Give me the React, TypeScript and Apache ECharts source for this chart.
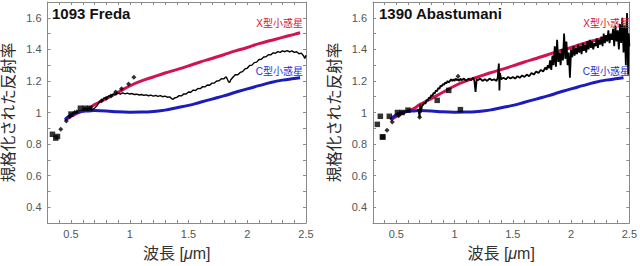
import React, { useEffect, useRef } from "react";
import * as echarts from "echarts";

// Reference spectra (shared)
const xTypeWl = [0.45, 0.5, 0.55, 0.6, 0.65, 0.7, 0.8, 0.9, 1.0, 1.1, 1.2, 1.3, 1.4, 1.5, 1.6, 1.7, 1.8, 1.9, 2.0, 2.1, 2.2, 2.3, 2.4, 2.45];
const xTypeRef = [0.95, 0.975, 0.995, 1.01, 1.025, 1.05, 1.088, 1.128, 1.168, 1.2, 1.225, 1.25, 1.272, 1.295, 1.32, 1.342, 1.366, 1.39, 1.412, 1.436, 1.456, 1.476, 1.495, 1.505];
const cTypeWl = [0.45, 0.5, 0.55, 0.6, 0.65, 0.7, 0.8, 0.9, 1.0, 1.1, 1.2, 1.3, 1.4, 1.5, 1.6, 1.7, 1.8, 1.9, 2.0, 2.1, 2.2, 2.3, 2.4, 2.45];
const cTypeRef = [0.955, 0.985, 1.0, 1.008, 1.01, 1.012, 1.01, 1.004, 1.002, 1.003, 1.007, 1.015, 1.03, 1.045, 1.065, 1.085, 1.105, 1.128, 1.15, 1.17, 1.19, 1.205, 1.215, 1.22];

// 1093 Freda
const fredaWl = [0.6, 0.62, 0.64, 0.66, 0.68, 0.7, 0.72, 0.74, 0.76, 0.78, 0.8, 0.82, 0.84, 0.86, 0.88, 0.9, 0.92, 0.94, 0.96, 0.98, 1.0, 1.02, 1.04, 1.06, 1.08, 1.1, 1.12, 1.14, 1.16, 1.18, 1.2, 1.22, 1.24, 1.26, 1.28, 1.3, 1.32, 1.34, 1.36, 1.37, 1.38, 1.4, 1.42, 1.44, 1.46, 1.48, 1.5, 1.52, 1.54, 1.56, 1.58, 1.6, 1.62, 1.64, 1.66, 1.68, 1.7, 1.72, 1.74, 1.76, 1.78, 1.8, 1.82, 1.83, 1.84, 1.85, 1.86, 1.88, 1.9, 1.92, 1.94, 1.96, 1.98, 2.0, 2.02, 2.04, 2.06, 2.08, 2.1, 2.12, 2.14, 2.16, 2.18, 2.2, 2.22, 2.24, 2.26, 2.28, 2.3, 2.32, 2.34, 2.36, 2.38, 2.4, 2.42, 2.44, 2.46, 2.48, 2.49, 2.5];
const fredaRef = [1.025, 1.029, 1.022, 1.028, 1.018, 1.027, 1.042, 1.066, 1.072, 1.092, 1.091, 1.105, 1.103, 1.116, 1.112, 1.123, 1.117, 1.124, 1.118, 1.123, 1.117, 1.12, 1.114, 1.116, 1.111, 1.114, 1.109, 1.112, 1.106, 1.11, 1.104, 1.108, 1.102, 1.107, 1.1, 1.104, 1.097, 1.099, 1.086, 1.083, 1.092, 1.096, 1.107, 1.105, 1.118, 1.117, 1.13, 1.128, 1.142, 1.139, 1.152, 1.151, 1.164, 1.162, 1.174, 1.173, 1.186, 1.187, 1.2, 1.201, 1.214, 1.213, 1.226, 1.212, 1.195, 1.19, 1.208, 1.225, 1.24, 1.239, 1.254, 1.259, 1.276, 1.28, 1.298, 1.3, 1.316, 1.319, 1.336, 1.337, 1.352, 1.353, 1.366, 1.365, 1.378, 1.375, 1.386, 1.381, 1.39, 1.385, 1.392, 1.384, 1.39, 1.381, 1.385, 1.372, 1.376, 1.358, 1.342, 1.362];
const fredaSqWl = [0.342, 0.37, 0.385, 0.5, 0.58, 0.62, 0.66];
const fredaSqRef = [0.862, 0.838, 0.848, 0.99, 1.027, 1.027, 1.027];
const fredaDiaWl = [0.413, 0.46, 0.49, 0.53, 0.55, 0.76, 0.8, 0.84, 0.88, 0.93, 0.99, 1.035];
const fredaDiaRef = [0.894, 0.946, 0.975, 1.0, 1.005, 1.075, 1.09, 1.105, 1.13, 1.15, 1.18, 1.224];

// 1390 Abastumani
const abaWl = [0.68, 0.69, 0.7, 0.705, 0.71, 0.72, 0.73, 0.74, 0.75, 0.76, 0.77, 0.78, 0.79, 0.8, 0.81, 0.82, 0.83, 0.84, 0.85, 0.86, 0.87, 0.88, 0.89, 0.9, 0.91, 0.92, 0.93, 0.94, 0.95, 0.96, 0.97, 0.98, 0.99, 1.0, 1.01, 1.02, 1.03, 1.04, 1.05, 1.06, 1.08, 1.1, 1.12, 1.14, 1.16, 1.17, 1.18, 1.19, 1.2, 1.22, 1.24, 1.26, 1.28, 1.3, 1.32, 1.34, 1.36, 1.37, 1.38, 1.385, 1.39, 1.4, 1.42, 1.44, 1.46, 1.48, 1.5, 1.52, 1.54, 1.56, 1.58, 1.6, 1.62, 1.64, 1.66, 1.68, 1.7, 1.72, 1.74, 1.76, 1.78, 1.79, 1.8, 1.81, 1.82, 1.83, 1.84, 1.85, 1.86, 1.87, 1.88, 1.89, 1.9, 1.91, 1.92, 1.93, 1.94, 1.95, 1.96, 1.97, 1.98, 1.99, 2.0, 2.01, 2.02, 2.03, 2.04, 2.05, 2.06, 2.07, 2.08, 2.09, 2.1, 2.11, 2.12, 2.13, 2.14, 2.15, 2.16, 2.17, 2.18, 2.19, 2.2, 2.21, 2.22, 2.23, 2.24, 2.25, 2.26, 2.27, 2.28, 2.29, 2.3, 2.31, 2.32, 2.33, 2.34, 2.35, 2.36, 2.37, 2.38, 2.39, 2.4, 2.41, 2.42, 2.43, 2.44, 2.45, 2.46, 2.47, 2.48, 2.49, 2.495, 2.5];
const abaRef = [1.015, 1.02, 0.97, 1.05, 1.0, 1.04, 1.05, 1.06, 1.055, 1.08, 1.075, 1.095, 1.09, 1.11, 1.105, 1.125, 1.12, 1.14, 1.135, 1.155, 1.15, 1.17, 1.165, 1.18, 1.175, 1.19, 1.185, 1.2, 1.19, 1.2, 1.21, 1.2, 1.21, 1.2, 1.215, 1.205, 1.21, 1.2, 1.215, 1.205, 1.215, 1.2, 1.215, 1.205, 1.22, 1.2, 1.13, 1.21, 1.205, 1.215, 1.2, 1.21, 1.2, 1.215, 1.205, 1.21, 1.2, 1.22, 1.31, 1.14, 1.25, 1.21, 1.22, 1.21, 1.225, 1.215, 1.225, 1.215, 1.23, 1.22, 1.235, 1.225, 1.24, 1.23, 1.25, 1.24, 1.26, 1.25, 1.27, 1.26, 1.285, 1.27, 1.3, 1.28, 1.33, 1.27, 1.36, 1.3, 1.42, 1.29, 1.46, 1.32, 1.38, 1.3, 1.4, 1.33, 1.5, 1.34, 1.45, 1.3, 1.38, 1.22, 1.4, 1.35, 1.42, 1.36, 1.41, 1.37, 1.43, 1.38, 1.42, 1.37, 1.44, 1.39, 1.43, 1.38, 1.45, 1.4, 1.46, 1.41, 1.45, 1.4, 1.44, 1.42, 1.47, 1.41, 1.46, 1.43, 1.48, 1.42, 1.5, 1.44, 1.49, 1.45, 1.52, 1.44, 1.5, 1.46, 1.53, 1.42, 1.55, 1.45, 1.52, 1.4, 1.56, 1.44, 1.6, 1.38, 1.55, 1.3, 1.63, 1.24, 1.5, 1.42];
const abaSqWl = [0.337, 0.363, 0.38, 0.386, 0.44, 0.51, 0.55, 0.6, 0.851, 0.95, 1.05];
const abaSqRef = [0.925, 0.976, 0.845, 0.845, 0.976, 1.0, 1.0, 1.015, 1.077, 1.14, 1.018];
const abaDiaWl = [0.42, 0.465, 0.52, 0.7, 1.03];
const abaDiaRef = [0.887, 0.94, 0.98, 0.97, 1.23];

const xTicks = [0.5, 1, 1.5, 2, 2.5];
const yTicks = [0.4, 0.6, 0.8, 1, 1.2, 1.4, 1.6];

const zip = (a: number[], b: number[]) => a.map((v, i) => [v, b[i]]);

const FONT = "'Liberation Sans', Arial, 'Noto Sans CJK JP', sans-serif";
const RED = "#d3134f";
const BLUE = "#1c1cbc";
const AXIS = "#8a8a8a";

export default function App() {
  const ref = useRef<HTMLDivElement>(null);
  useEffect(() => {
    document.body.style.margin = "0";
    const chart = echarts.init(ref.current!, null, { renderer: "svg" });
    const grids = [
      { left: 47, top: 2, width: 259, height: 221 },
      { left: 373, top: 2, width: 260, height: 221 },
    ];
    const fx = (v: number) => {
      const t = xTicks.find((k) => Math.abs(k - v) < 1e-6);
      return t === undefined ? "" : String(t);
    };
    const fy = (v: number) => {
      const t = yTicks.find((k) => Math.abs(k - v) < 1e-6);
      return t === undefined ? "" : String(t);
    };
    const xAxes: any[] = [];
    const yAxes: any[] = [];
    [0, 1].forEach((g) => {
      const line = { show: true, lineStyle: { color: AXIS, width: 1 } };
      const tick = { show: true, inside: true, length: 3, lineStyle: { color: AXIS } };
      xAxes.push({
        type: "value", gridIndex: g, min: 0.3, max: 2.5, interval: 0.1, position: "bottom",
        axisLine: line, axisTick: tick, splitLine: { show: false },
        axisLabel: { formatter: fx, color: "#555", fontSize: 11, margin: 5, fontFamily: FONT, showMinLabel: true, showMaxLabel: true },
        name: "{a|波長 [}{b|μ}{a|m]}", nameLocation: "middle", nameGap: 22,
        nameTextStyle: {
          rich: {
            a: { fontSize: 16, color: "#333", fontFamily: FONT },
            b: { fontSize: 16, color: "#333", fontFamily: FONT, fontStyle: "italic" },
          },
        },
      });
      xAxes.push({
        type: "value", gridIndex: g, min: 0.3, max: 2.5, interval: 0.1, position: "top",
        axisLine: line, axisTick: tick, axisLabel: { show: false }, splitLine: { show: false },
      });
      yAxes.push({
        type: "value", gridIndex: g, min: 0.3, max: 1.7, interval: 0.1, position: "left",
        axisLine: line, axisTick: tick, splitLine: { show: false },
        axisLabel: { formatter: fy, color: "#555", fontSize: 11, margin: 6, fontFamily: FONT },
        name: "規格化された反射率", nameLocation: "middle", nameGap: 31,
        nameTextStyle: { fontSize: 15.5, color: "#2a2a2a", fontFamily: FONT },
      });
      yAxes.push({
        type: "value", gridIndex: g, min: 0.3, max: 1.7, interval: 0.1, position: "right",
        axisLine: line, axisTick: tick, axisLabel: { show: false }, splitLine: { show: false },
      });
    });

    const series: any[] = [];
    const panels = [
      { line: zip(fredaWl, fredaRef), sq: zip(fredaSqWl, fredaSqRef), dia: zip(fredaDiaWl, fredaDiaRef), lw: 1.4 },
      { line: zip(abaWl, abaRef), sq: zip(abaSqWl, abaSqRef), dia: zip(abaDiaWl, abaDiaRef), lw: 1.8 },
    ];
    panels.forEach((p, g) => {
      const xi = g * 2;
      const yi = g * 2;
      series.push({
        type: "line", xAxisIndex: xi, yAxisIndex: yi, data: zip(xTypeWl, xTypeRef),
        showSymbol: false, smooth: true, lineStyle: { color: RED, width: 3 }, z: 2,
      });
      series.push({
        type: "line", xAxisIndex: xi, yAxisIndex: yi, data: zip(cTypeWl, cTypeRef),
        showSymbol: false, smooth: true, lineStyle: { color: BLUE, width: 3 }, z: 3,
      });
      series.push({
        type: "line", xAxisIndex: xi, yAxisIndex: yi, data: p.line,
        showSymbol: false, lineStyle: { color: "#000", width: p.lw }, z: 4,
      });
      series.push({
        type: "scatter", xAxisIndex: xi, yAxisIndex: yi, data: p.sq,
        symbol: "rect", symbolSize: 5.5, itemStyle: { color: "#000" }, z: 5,
      });
      series.push({
        type: "scatter", xAxisIndex: xi, yAxisIndex: yi, data: p.dia,
        symbol: "diamond", symbolSize: 5, itemStyle: { color: "#000" }, z: 5,
      });
    });

    const lab = (text: string, x: number, y: number, fill: string) => ({
      type: "text", x, y,
      style: { text, fill, fontSize: 10, fontFamily: FONT, textAlign: "right", textVerticalAlign: "middle" },
      z: 10,
    });

    chart.setOption({
      animation: false,
      grid: grids,
      title: [
        { text: "1093 Freda", left: 52, top: 6, padding: 0, textStyle: { fontSize: 15, fontWeight: "bold", color: "#111", fontFamily: FONT } },
        { text: "1390 Abastumani", left: 379, top: 6, padding: 0, textStyle: { fontSize: 15, fontWeight: "bold", color: "#111", fontFamily: FONT } },
      ],
      xAxis: xAxes,
      yAxis: yAxes,
      series,
      graphic: [
        lab("X型小惑星", 303, 23, "#d8102c"),
        lab("C型小惑星", 303, 71, "#1d2fd0"),
        lab("X型小惑星", 630, 23, "#d8102c"),
        lab("C型小惑星", 630, 71, "#1d2fd0"),
      ],
    });
    return () => chart.dispose();
  }, []);
  return <div ref={ref} style={{ width: 640, height: 266 }} />;
}
